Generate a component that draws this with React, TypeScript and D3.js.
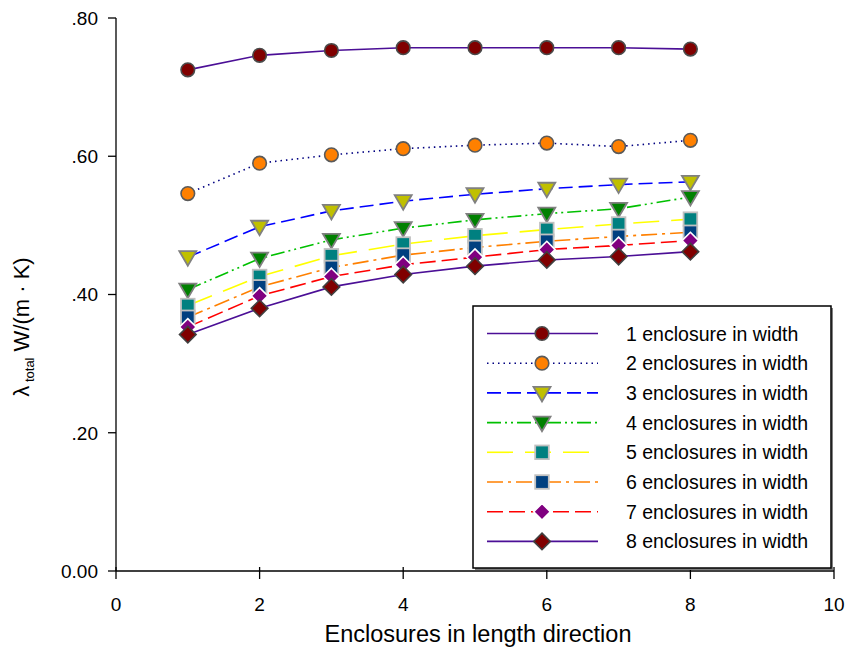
import React from "react";
import * as d3 from "d3";

// Enclosures in length direction (x values)
const lengths = [1, 2, 3, 4, 5, 6, 7, 8];

// λ_total per number of enclosures in width
const w1 = [0.725, 0.746, 0.753, 0.757, 0.757, 0.757, 0.757, 0.755];
const w2 = [0.546, 0.59, 0.602, 0.611, 0.616, 0.619, 0.614, 0.623];
const w3 = [0.454, 0.498, 0.521, 0.535, 0.545, 0.553, 0.559, 0.563];
const w4 = [0.407, 0.452, 0.479, 0.496, 0.508, 0.517, 0.524, 0.541];
const w5 = [0.384, 0.426, 0.456, 0.473, 0.485, 0.494, 0.502, 0.509];
const w6 = [0.367, 0.411, 0.439, 0.457, 0.468, 0.477, 0.484, 0.49];
const w7 = [0.353, 0.398, 0.426, 0.443, 0.454, 0.465, 0.471, 0.478];
const w8 = [0.342, 0.38, 0.411, 0.429, 0.441, 0.45, 0.455, 0.462];

const seriesNames = [
  "1 enclosure in width",
  "2 enclosures in width",
  "3 enclosures in width",
  "4 enclosures in width",
  "5 enclosures in width",
  "6 enclosures in width",
  "7 enclosures in width",
  "8 enclosures in width",
];

const xTicks = [0, 2, 4, 6, 8, 10];
const yTicks = [0, 0.2, 0.4, 0.6, 0.8];
const yTickLabels = ["0.00", ".20", ".40", ".60", ".80"];

type Shape = "circle" | "triDown" | "square" | "diamond";
interface Style {
  line: string;
  dash: string | undefined;
  shape: Shape;
  fill: string;
  stroke: string;
}

const styles: Style[] = [
  { line: "#4b0f96", dash: undefined, shape: "circle", fill: "#800000", stroke: "#4a4a4a" },
  { line: "#000080", dash: "1.5,4", shape: "circle", fill: "#ff8000", stroke: "#5a5a5a" },
  { line: "#0000ff", dash: "14,6", shape: "triDown", fill: "#c0c000", stroke: "#808080" },
  { line: "#00c000", dash: "14,4,2,4,2,4", shape: "triDown", fill: "#008000", stroke: "#808080" },
  { line: "#ffff00", dash: "26,12", shape: "square", fill: "#008080", stroke: "#c0c0c0" },
  { line: "#ff8000", dash: "16,5,3,5", shape: "square", fill: "#004080", stroke: "#c0c0c0" },
  { line: "#ff0000", dash: "16,6", shape: "diamond", fill: "#800080", stroke: "#ffffff" },
  { line: "#4b0f96", dash: undefined, shape: "diamond", fill: "#800000", stroke: "#404040" },
];

const allSeries = [w1, w2, w3, w4, w5, w6, w7, w8];

const W = 847;
const H = 650;
const plot = { left: 116, right: 834, top: 18, bottom: 571 };

const x = d3.scaleLinear().domain([0, 10]).range([plot.left, plot.right]);
const y = d3.scaleLinear().domain([0, 0.8]).range([plot.bottom, plot.top]);

const FONT = "Arial, 'Liberation Sans', sans-serif";

function Marker({ shape, fill, stroke, cx, cy }: { shape: Shape; fill: string; stroke: string; cx: number; cy: number }) {
  if (shape === "circle") {
    return <circle cx={cx} cy={cy} r={6.8} fill={fill} stroke={stroke} strokeWidth={1.6} />;
  }
  if (shape === "square") {
    return <rect x={cx - 6.8} y={cy - 6.8} width={13.6} height={13.6} fill={fill} stroke={stroke} strokeWidth={1.8} />;
  }
  if (shape === "triDown") {
    const p = [
      [cx - 8.5, cy - 6],
      [cx + 8.5, cy - 6],
      [cx, cy + 8.5],
    ];
    return <polygon points={p.map((q) => q.join(",")).join(" ")} fill={fill} stroke={stroke} strokeWidth={1.8} />;
  }
  const r = 8.3;
  const p = [
    [cx, cy - r],
    [cx + r, cy],
    [cx, cy + r],
    [cx - r, cy],
  ];
  return <polygon points={p.map((q) => q.join(",")).join(" ")} fill={fill} stroke={stroke} strokeWidth={1.6} />;
}

export default function App() {
  const line = d3
    .line<number>()
    .x((_, i) => x(lengths[i]))
    .y((d) => y(d));

  const legend = { x: 473, y: 306, w: 358, h: 262, rowStart: 333.5, rowStep: 29.7 };

  return (
    <svg
      width={W}
      height={H}
      viewBox={`0 0 ${W} ${H}`}
      style={{ position: "absolute", left: 0, top: 0, background: "#fff" }}
      fontFamily={FONT}
    >
      <rect width={W} height={H} fill="#fff" />

      {/* series lines */}
      {allSeries.map((s, i) => (
        <path
          key={`l${i}`}
          d={line(s) ?? ""}
          fill="none"
          stroke={styles[i].line}
          strokeWidth={1.6}
          strokeDasharray={styles[i].dash}
        />
      ))}

      {/* series markers */}
      {allSeries.map((s, i) => (
        <g key={`m${i}`}>
          {s.map((v, j) => (
            <Marker key={j} shape={styles[i].shape} fill={styles[i].fill} stroke={styles[i].stroke} cx={x(lengths[j])} cy={y(v)} />
          ))}
        </g>
      ))}

      {/* axes */}
      <line x1={plot.left} x2={plot.left} y1={plot.top} y2={plot.bottom} stroke="#000" strokeWidth={1.3} />
      <line x1={plot.left} x2={plot.right} y1={plot.bottom} y2={plot.bottom} stroke="#000" strokeWidth={1.3} />
      {yTicks.map((t, i) => (
        <g key={`yt${i}`}>
          <line x1={plot.left - 8} x2={plot.left} y1={y(t)} y2={y(t)} stroke="#000" strokeWidth={1.3} />
          <text x={plot.left - 18} y={y(t)} dy="0.36em" textAnchor="end" fontSize={19} fill="#000">
            {yTickLabels[i]}
          </text>
        </g>
      ))}
      {xTicks.map((t) => (
        <g key={`xt${t}`}>
          <line x1={x(t)} x2={x(t)} y1={plot.bottom - 4} y2={plot.bottom + 8} stroke="#000" strokeWidth={1.3} />
          <text x={x(t)} y={611} textAnchor="middle" fontSize={19} fill="#000">
            {t}
          </text>
        </g>
      ))}

      {/* axis titles */}
      <text x={478} y={642} textAnchor="middle" fontSize={23.5} fill="#000">
        Enclosures in length direction
      </text>
      <text transform="translate(29,327) rotate(-90)" textAnchor="middle" fontSize={22} fill="#000">
        λ<tspan fontSize={13} dy={5}>{"  total"}</tspan>
        <tspan dy={-5}>{"   W/(m · K)"}</tspan>
      </text>

      {/* legend */}
      <rect x={legend.x + 2} y={legend.y + 2} width={legend.w} height={legend.h} fill="#808080" />
      <rect x={legend.x} y={legend.y} width={legend.w} height={legend.h} fill="#fff" stroke="#000" strokeWidth={1.5} />
      {seriesNames.map((name, i) => {
        const cy = legend.rowStart + i * legend.rowStep;
        return (
          <g key={`lg${i}`}>
            <line x1={487} x2={598} y1={cy} y2={cy} stroke={styles[i].line} strokeWidth={1.6} strokeDasharray={styles[i].dash} />
            <Marker shape={styles[i].shape} fill={styles[i].fill} stroke={styles[i].stroke} cx={542} cy={cy} />
            <text x={626} y={cy} dy="0.36em" fontSize={19.5} fill="#000">
              {name}
            </text>
          </g>
        );
      })}
    </svg>
  );
}
